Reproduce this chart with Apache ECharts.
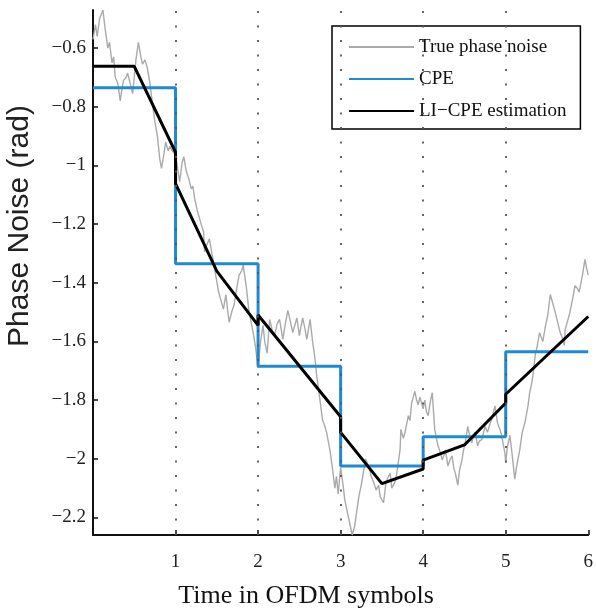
<!DOCTYPE html>
<html>
<head>
<meta charset="utf-8">
<script src="https://cdn.jsdelivr.net/npm/echarts@6/dist/echarts.min.js"></script>
<style>
  html, body { margin: 0; padding: 0; background: #fff; }
  #chart { width: 596px; height: 612px; }
</style>
</head>
<body>
<div id="chart"></div>
<script>
// axis ticks
const xTicks = [1, 2, 3, 4, 5, 6];
const yTicks = [-2.2, -2, -1.8, -1.6, -1.4, -1.2, -1, -0.8, -0.6];
// dotted symbol boundaries
const symbolBounds = [1, 2, 3, 4, 5];

// CPE: one level per OFDM symbol
const cpeLevels = [-0.735, -1.335, -1.685, -2.025, -1.925, -1.635];

// LI-CPE estimation (time, rad)
const liCpe = [
    [0, -0.662], [0.5, -0.662], [1, -0.955], [1, -1.062], [1.5, -1.36],
    [2, -1.545], [2, -1.51], [3, -1.857], [3, -1.91], [3.5, -2.085],
    [4, -2.035], [4, -2.005], [4.5, -1.953], [5, -1.81], [5, -1.78], [6, -1.515]
];

// true phase noise (time, rad)
const truePhaseNoise = [
    [0.00, -0.57], [0.03, -0.52], [0.05, -0.56], [0.08, -0.50], [0.12, -0.47],
    [0.15, -0.54], [0.18, -0.60], [0.20, -0.58], [0.23, -0.65], [0.25, -0.63],
    [0.27, -0.70], [0.30, -0.72], [0.33, -0.78], [0.35, -0.74], [0.37, -0.71],
    [0.40, -0.70], [0.42, -0.685], [0.45, -0.72], [0.48, -0.755], [0.50, -0.70],
    [0.52, -0.64], [0.55, -0.58], [0.58, -0.63], [0.60, -0.655], [0.63, -0.64],
    [0.66, -0.67], [0.69, -0.72], [0.72, -0.79], [0.75, -0.85], [0.78, -0.90],
    [0.81, -0.98], [0.83, -1.01], [0.86, -0.96], [0.88, -0.92], [0.91, -0.95],
    [0.93, -0.935], [0.96, -0.95], [0.99, -0.96],
    [1.02, -1.00], [1.05, -1.055], [1.08, -0.99], [1.10, -0.97], [1.13, -1.02],
    [1.16, -1.045], [1.19, -1.08], [1.21, -1.07], [1.23, -1.11], [1.26, -1.15],
    [1.28, -1.17], [1.31, -1.20], [1.34, -1.227], [1.35, -1.295], [1.38, -1.27],
    [1.41, -1.25], [1.44, -1.30], [1.46, -1.33], [1.49, -1.38], [1.52, -1.43],
    [1.55, -1.46], [1.58, -1.49], [1.61, -1.44], [1.63, -1.49], [1.65, -1.535],
    [1.68, -1.50], [1.71, -1.475], [1.74, -1.42], [1.77, -1.374], [1.80, -1.36],
    [1.82, -1.34], [1.86, -1.42], [1.89, -1.50], [1.92, -1.54], [1.94, -1.57],
    [1.97, -1.62], [1.99, -1.67],
    [2.00, -1.69], [2.03, -1.60], [2.06, -1.545], [2.08, -1.60], [2.11, -1.64],
    [2.14, -1.525], [2.17, -1.56], [2.20, -1.58], [2.23, -1.54], [2.26, -1.525],
    [2.30, -1.593], [2.33, -1.54], [2.36, -1.494], [2.39, -1.53], [2.42, -1.57],
    [2.47, -1.52], [2.50, -1.58], [2.54, -1.52], [2.57, -1.56], [2.59, -1.593],
    [2.63, -1.525], [2.66, -1.60], [2.69, -1.66], [2.71, -1.716], [2.75, -1.80],
    [2.78, -1.867], [2.81, -1.89], [2.83, -1.91], [2.87, -1.97], [2.90, -2.03],
    [2.93, -2.10], [2.95, -2.06], [2.97, -2.12], [3.00, -2.03],
    [3.03, -2.09], [3.05, -2.14], [3.08, -2.18], [3.11, -2.22], [3.14, -2.26],
    [3.17, -2.23], [3.19, -2.19], [3.22, -2.13], [3.25, -2.09], [3.28, -2.04],
    [3.30, -2.00], [3.34, -2.025], [3.37, -2.06], [3.40, -2.08], [3.43, -2.107],
    [3.46, -2.09], [3.48, -2.13], [3.52, -2.15], [3.55, -2.08], [3.58, -2.06],
    [3.60, -2.05], [3.62, -2.10], [3.64, -2.09], [3.67, -2.07], [3.70, -2.01],
    [3.72, -1.97], [3.73, -1.90], [3.76, -1.93], [3.78, -1.91], [3.82, -1.853],
    [3.84, -1.87], [3.86, -1.81], [3.88, -1.79], [3.90, -1.77], [3.92, -1.80],
    [3.94, -1.816], [3.96, -1.79], [3.98, -1.785], [4.00, -1.83],
    [4.02, -1.80], [4.04, -1.84], [4.06, -1.853], [4.09, -1.80], [4.11, -1.775],
    [4.14, -1.90], [4.16, -1.93], [4.18, -1.956], [4.21, -1.98], [4.23, -2.004],
    [4.25, -1.99], [4.27, -1.97], [4.30, -2.025], [4.33, -2.00], [4.35, -1.99],
    [4.37, -2.03], [4.39, -2.05], [4.42, -2.09], [4.44, -2.04], [4.47, -2.004],
    [4.49, -1.97], [4.51, -1.946], [4.54, -1.89], [4.57, -1.93], [4.59, -1.946],
    [4.61, -1.92], [4.63, -1.91], [4.66, -1.956], [4.68, -1.94], [4.71, -1.935],
    [4.75, -1.89], [4.78, -1.91], [4.81, -1.88], [4.83, -1.867], [4.87, -1.82],
    [4.90, -1.877], [4.93, -1.90], [4.95, -1.92], [4.97, -1.95], [4.99, -1.98],
    [5.00, -2.014], [5.02, -1.96], [5.05, -1.92], [5.08, -1.99], [5.11, -2.07],
    [5.13, -2.03], [5.15, -2.00], [5.17, -1.97], [5.20, -1.91], [5.22, -1.89],
    [5.24, -1.867], [5.27, -1.82], [5.29, -1.775], [5.31, -1.75], [5.33, -1.716],
    [5.36, -1.64], [5.38, -1.62], [5.41, -1.57], [5.45, -1.60], [5.48, -1.55],
    [5.51, -1.51], [5.54, -1.44], [5.57, -1.47], [5.59, -1.49], [5.63, -1.535],
    [5.66, -1.57], [5.69, -1.59], [5.71, -1.614], [5.72, -1.56], [5.75, -1.53],
    [5.77, -1.51], [5.81, -1.456], [5.84, -1.41], [5.87, -1.42], [5.89, -1.432],
    [5.93, -1.374], [5.96, -1.32], [5.98, -1.35], [6.00, -1.374]
];

// step line for CPE
const cpeSteps = [];
cpeLevels.forEach((v, i) => {
    cpeSteps.push([i, v]);
    cpeSteps.push([i + 1, v]);
});

const serif = 'Liberation Serif';
const chart = echarts.init(document.getElementById('chart'));

chart.setOption({
    animation: false,
    backgroundColor: '#fff',
    grid: { left: 93, right: 4, top: 10, bottom: 77 },
    legend: {
        orient: 'vertical',
        left: 332,
        top: 26,
        padding: [11, 14, 8, 16],
        itemWidth: 65,
        itemHeight: 14,
        itemGap: 12,
        borderColor: '#000',
        borderWidth: 1.5,
        backgroundColor: '#fff',
        itemStyle: { opacity: 0 },
        textStyle: { fontFamily: serif, fontSize: 19, color: '#111', lineHeight: 20 },
        data: ['True phase noise', 'CPE', 'LI\u2212CPE estimation']
    },
    xAxis: {
        type: 'value',
        min: 0,
        max: 6,
        axisLine: { lineStyle: { color: '#111', width: 2 } },
        axisTick: { inside: true, length: 5, customValues: xTicks, lineStyle: { color: '#111', width: 1.5 } },
        axisLabel: {
            customValues: xTicks,
            margin: 18,
            fontFamily: serif,
            fontSize: 19,
            color: '#222'
        },
        splitLine: { show: false }
    },
    yAxis: {
        type: 'value',
        min: -2.26,
        max: -0.47,
        axisLine: { show: true, lineStyle: { color: '#111', width: 2 } },
        axisTick: { show: true, inside: true, length: 5, customValues: yTicks, lineStyle: { color: '#111', width: 1.5 } },
        axisLabel: {
            customValues: yTicks,
            margin: 7,
            fontFamily: serif,
            fontSize: 19,
            color: '#222',
            formatter: v => String(v).replace('-', '\u2212')
        },
        splitLine: { show: false }
    },
    graphic: [
        {
            type: 'text',
            x: 20,
            y: 226,
            rotation: Math.PI / 2,
            style: {
                text: 'Phase Noise (rad)',
                fontFamily: 'Liberation Sans',
                fontSize: 30,
                fill: '#222',
                align: 'center',
                verticalAlign: 'middle'
            }
        },
        {
            type: 'text',
            x: 306,
            y: 596,
            style: {
                text: 'Time in OFDM symbols',
                fontFamily: serif,
                fontSize: 26,
                fill: '#111',
                align: 'center',
                verticalAlign: 'middle'
            }
        }
    ],
    series: [
        {
            name: 'True phase noise',
            type: 'line',
            data: truePhaseNoise,
            showSymbol: false,
            symbol: 'none',
            lineStyle: { color: '#aaaaaa', width: 1.4 },
            itemStyle: { color: '#aaaaaa' },
            markLine: {
                silent: true,
                symbol: ['none', 'none'],
                label: { show: false },
                lineStyle: { color: '#555', width: 1.8, type: [2, 12.5] },
                data: symbolBounds.map(v => ({ xAxis: v }))
            },
            z: 2
        },
        {
            name: 'CPE',
            type: 'line',
            data: cpeSteps,
            showSymbol: false,
            symbol: 'none',
            lineStyle: { color: '#1f8ad2', width: 3 },
            itemStyle: { color: '#1f8ad2' },
            z: 3
        },
        {
            name: 'LI\u2212CPE estimation',
            type: 'line',
            data: liCpe,
            showSymbol: false,
            symbol: 'none',
            lineStyle: { color: '#000', width: 3 },
            itemStyle: { color: '#000' },
            z: 4
        }
    ]
});
</script>
</body>
</html>
